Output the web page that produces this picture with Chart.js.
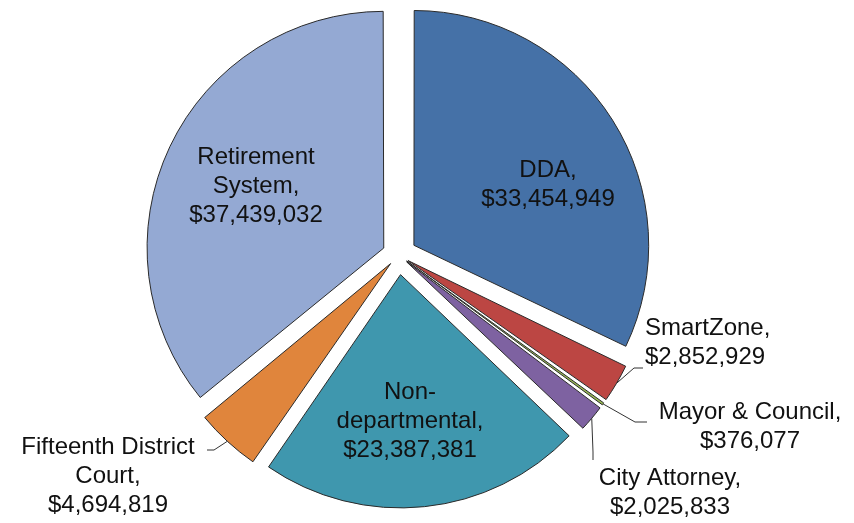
<!DOCTYPE html>
<html lang="en">
<head>
  <meta charset="UTF-8" />
  <title>Budget by Department</title>
  <style>
    body { margin: 0; background: #fff; }
    #chart-container { width: 854px; height: 523px; }
  </style>
  <script src="https://cdn.jsdelivr.net/npm/chart.js"></script>
</head>
<body>
  <div id="chart-container">
    <canvas id="pieChart" width="854" height="523"></canvas>
  </div>

  <script>
    // Data, clockwise from 12 o'clock
    const departments = ['DDA', 'SmartZone', 'Mayor & Council', 'City Attorney',
                         'Non-departmental', 'Fifteenth District Court', 'Retirement System'];
    const amounts = [33454949, 2852929, 376077, 2025833, 23387381, 4694819, 37439032];
    // How each label is broken onto lines
    const labelLines = [
      ['DDA,'],
      ['SmartZone,'],
      ['Mayor & Council,'],
      ['City Attorney,'],
      ['Non-', 'departmental,'],
      ['Fifteenth District', 'Court,'],
      ['Retirement', 'System,']
    ];

    const sliceColors = ['#4571A7', '#BC4643', '#98B954', '#7E62A1', '#3F97AE', '#E0853C', '#94A9D3'];

    // label placement: text centre (x, line 1 y), and leader elbow / end for outside labels
    const labelLayout = [
      { x: 548, y: 170, align: 'center' },
      { x: 645, y: 328, align: 'left',   elbow: [634, 368], end: [643, 368] },
      { x: 750, y: 412, align: 'center', elbow: [635, 422], end: [647, 422] },
      { x: 670, y: 478, align: 'center', elbow: [593, 452], end: [593, 460] },
      { x: 410, y: 392, align: 'center' },
      { x: 108, y: 447, align: 'center', elbow: [214, 450], end: [207, 450] },
      { x: 256, y: 157, align: 'center' }
    ];

    // Chart.js moves an arc by offset/4 * (2 - sin(angle)); pick offsets so every
    // slice is pulled out by the same distance
    const explode = 20;
    const total = amounts.reduce((a, b) => a + b, 0);
    const sliceShift = c => (2 - Math.sin(Math.min(Math.PI, c))) / 4;
    const offsets = amounts.map(v => explode / sliceShift(2 * Math.PI * v / total));

    const fmt = v => '$' + v.toLocaleString('en-US');

    const labelPlugin = {
      id: 'sliceLabels',
      afterDatasetsDraw(chart) {
        const ctx = chart.ctx;
        const meta = chart.getDatasetMeta(0);
        ctx.save();
        ctx.font = '24px "Liberation Sans", Arial, sans-serif';
        ctx.fillStyle = '#111';
        ctx.textBaseline = 'middle';
        meta.data.forEach((arc, i) => {
          const lay = labelLayout[i];
          const lines = labelLines[i].concat([fmt(amounts[i])]);
          if (lay.elbow) {
            const p = arc.getProps(['x', 'y', 'startAngle', 'endAngle', 'outerRadius'], true);
            const mid = (p.startAngle + p.endAngle) / 2;
            const r = p.outerRadius + explode;
            ctx.strokeStyle = '#333';
            ctx.lineWidth = 1;
            ctx.beginPath();
            ctx.moveTo(p.x + Math.cos(mid) * r, p.y + Math.sin(mid) * r);
            ctx.lineTo(lay.elbow[0], lay.elbow[1]);
            ctx.lineTo(lay.end[0], lay.end[1]);
            ctx.stroke();
          }
          ctx.textAlign = lay.align;
          lines.forEach((t, k) => ctx.fillText(t, lay.x, lay.y + k * 29));
        });
        ctx.restore();
      }
    };

    const ctx = document.getElementById('pieChart').getContext('2d');
    new Chart(ctx, {
      type: 'pie',
      data: {
        labels: departments,
        datasets: [{
          data: amounts,
          backgroundColor: sliceColors,
          borderColor: '#2a2a2a',
          borderWidth: 1,
          offset: offsets
        }]
      },
      options: {
        responsive: false,
        animation: false,
        radius: 233,
        layout: { padding: { top: 12, bottom: 25, left: 0, right: 57 } },
        plugins: {
          legend: { display: false },
          tooltip: { enabled: false }
        }
      },
      plugins: [labelPlugin]
    });
  </script>
</body>
</html>
